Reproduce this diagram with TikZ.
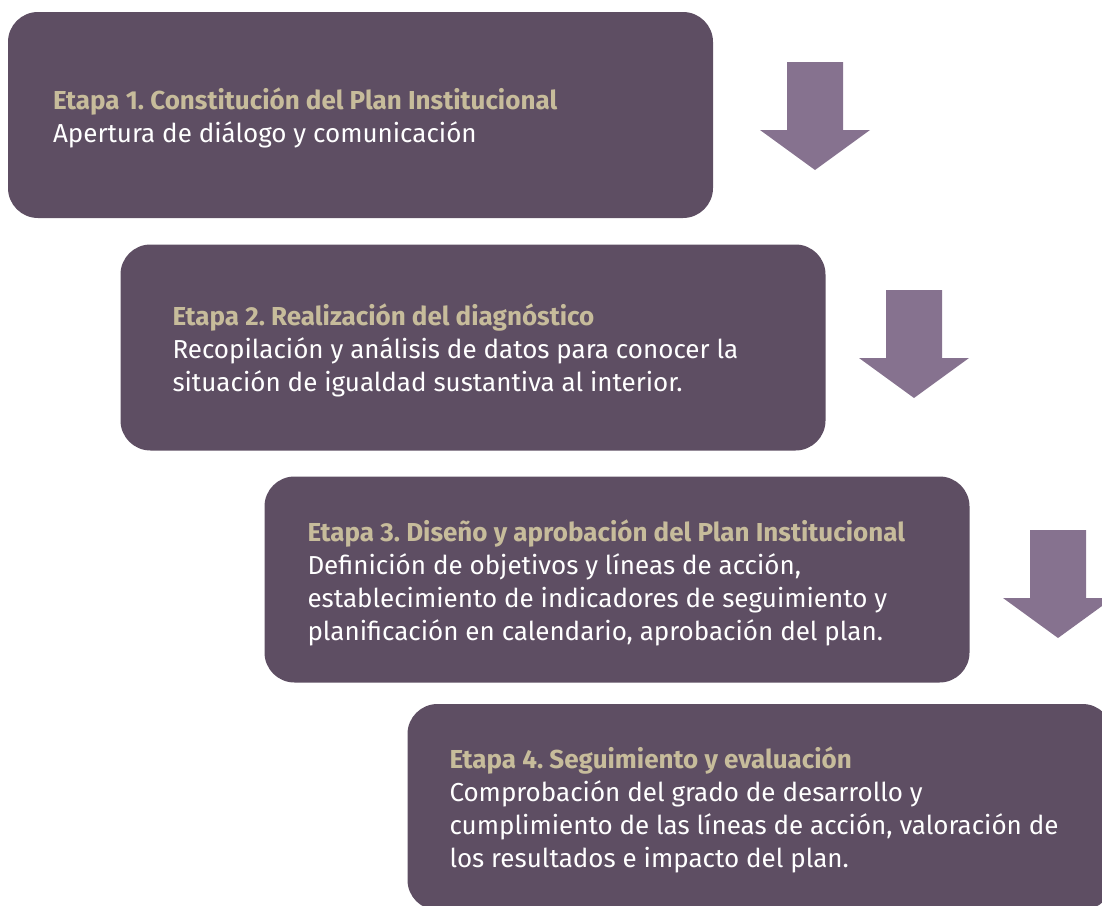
\documentclass[tikz,border=0pt]{standalone}
\usepackage{fontspec}
\setmainfont{Fira Sans}
\usetikzlibrary{positioning}
\frenchspacing
\definecolor{etapafondo}{HTML}{5E4E63}
\definecolor{flechafondo}{HTML}{86728F}
\definecolor{etapatitulo}{HTML}{C7BC9B}
\tikzset{
  etapa/.style={fill=etapafondo, rounded corners=30pt,
    minimum width=705pt, minimum height=206pt},
  etapatexto/.style={align=left, inner sep=0pt, text=white, yshift=-3pt,
    font=\fontsize{26}{33}\selectfont},
  flecha/.style={fill=flechafondo}
}
\newcommand{\etapatit}[1]{{\color{etapatitulo}\bfseries #1}}
\begin{document}
\begin{tikzpicture}[x=1pt,y=-1pt]
      \useasboundingbox (0,0) rectangle (1102,905);
      \clip (0,0) rectangle (1102,905);
      % etapas
      \node[etapa] (etapa1) at (360.5,115) {};
      \node[etapa] (etapa2) at (473,347.5) {};
      \node[etapa] (etapa3) at (617,579.5) {};
      \node[etapa] (etapa4) at (760,807) {};
      % textos
      \node[etapatexto, right=45pt of etapa1.west] (texto1)
        {\etapatit{Etapa 1. Constitución del Plan Institucional}\\
         Apertura de diálogo y comunicación};
      \node[etapatexto, right=52pt of etapa2.west] (texto2)
        {\etapatit{Etapa 2. Realización del diagnóstico}\\
         Recopilación y análisis de datos para conocer la\\
         situación de igualdad sustantiva al interior.};
      \node[etapatexto, right=43pt of etapa3.west] (texto3)
        {\etapatit{Etapa 3. Diseño y aprobación del Plan Institucional}\\
         Definición de objetivos y líneas de acción,\\
         establecimiento de indicadores de seguimiento y\\
         planificación en calendario, aprobación del plan.};
      \node[etapatexto, right=42pt of etapa4.west] (texto4)
        {\etapatit{Etapa 4. Seguimiento y evaluación}\\
         Comprobación del grado de desarrollo y\\
         cumplimiento de las líneas de acción, valoración de\\
         los resultados e impacto del plan.};
      % flechas
      \foreach \cx/\ty in {815/62, 914/290, 1058/530}
        \fill[flecha] (\cx-28,\ty) -- (\cx+28,\ty) -- (\cx+28,\ty+68)
          -- (\cx+55,\ty+68) -- (\cx,\ty+108) -- (\cx-55,\ty+68)
          -- (\cx-28,\ty+68) -- cycle;
    \end{tikzpicture}
\end{document}
